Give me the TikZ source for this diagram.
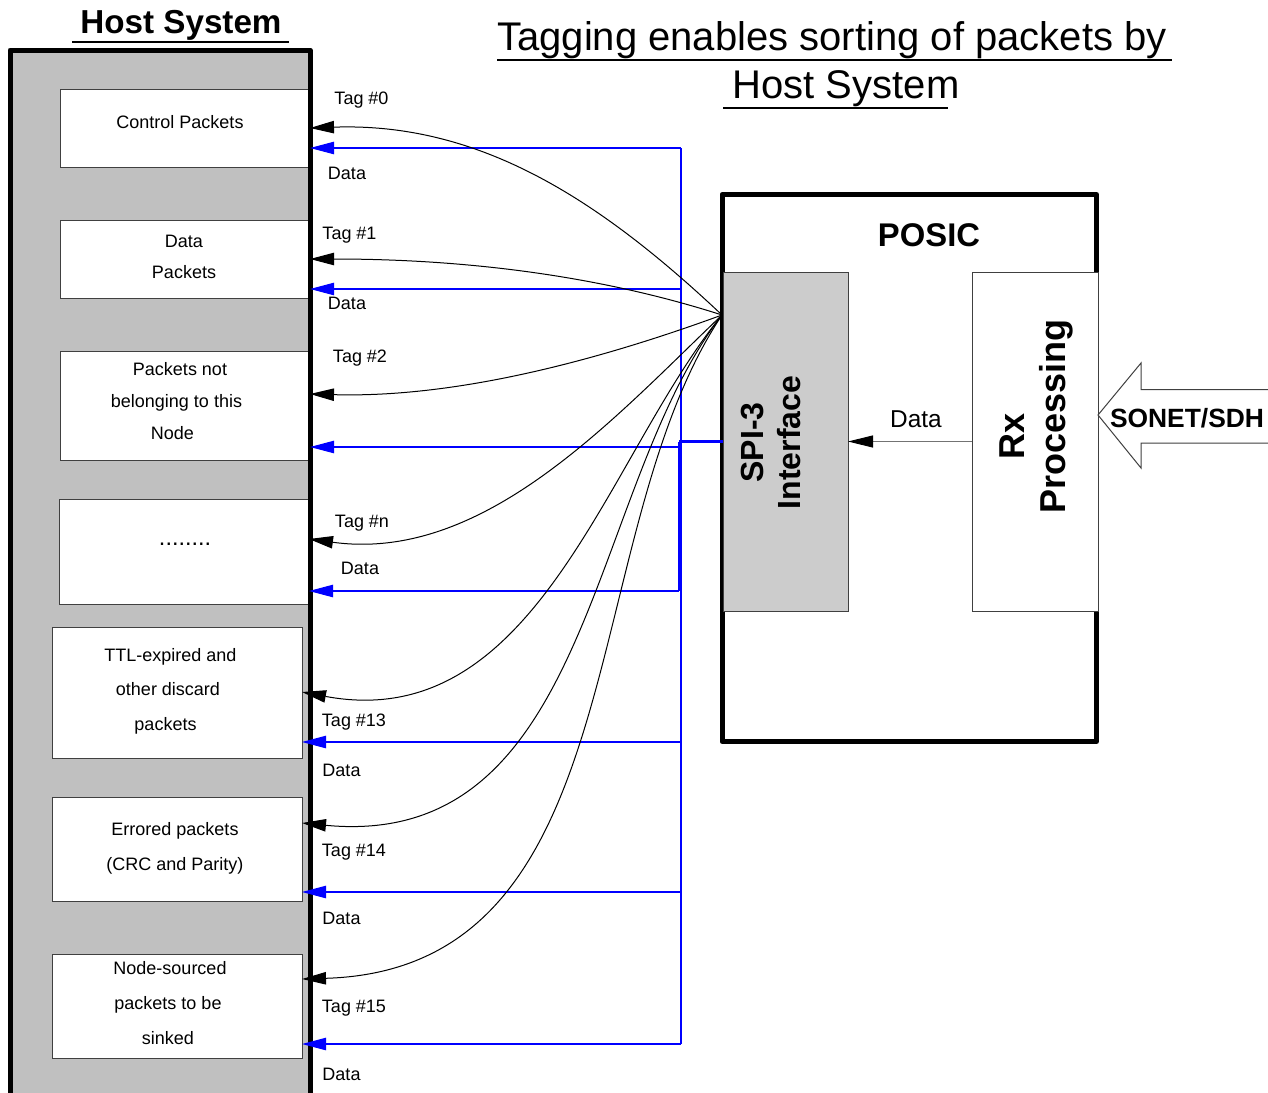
\documentclass[tikz,border=0pt]{standalone}
\usepackage{fontspec}
\setmainfont{Liberation Sans}
\usetikzlibrary{arrows.meta}

\definecolor{hostgray}{RGB}{192,192,192}
\definecolor{spigray}{RGB}{204,204,204}
\definecolor{edgegray}{RGB}{64,64,64}

\begin{document}
\begin{tikzpicture}[x=0.5pt, y=-0.5pt,
  txt/.style={inner sep=0pt, font=\fontsize{9}{16}\selectfont, align=center},
  pkt/.style={draw=edgegray, fill=white, line width=0.5pt, inner sep=0pt, outer sep=0pt, minimum width=125pt},
  tiptri/.style={-{Triangle[length=12pt,width=6.2pt]}},
  tagline/.style={tiptri, draw=black, line width=0.5pt},
  dataline/.style={tiptri, draw=blue, line width=0.55pt},
  bus/.style={draw=blue, line width=0.55pt},
  bigbold/.style={inner sep=0pt, font=\bfseries\fontsize{#1}{#1}\selectfont},
]
\useasboundingbox (0,0) rectangle (1268,1092);

% ---------- host system column ----------
\node[fill=hostgray, inner sep=0pt, outer sep=0pt,
      minimum width=150pt, minimum height=525pt] (host) at (160,575) {};

\node[pkt, minimum height=39pt]   (ctrl)    at (185,128)   {};
\node[pkt, minimum height=39pt]   (datapk)  at (185,259)   {};
\node[pkt, minimum height=54.5pt] (foreign) at (185,405.5) {};
\node[pkt, minimum height=52.5pt] (others)  at (184,551.5) {};
\node[pkt, minimum height=65.5pt] (ttl)     at (177,692.5) {};
\node[pkt, minimum height=52pt]   (errored) at (177,849)   {};
\node[pkt, minimum height=52pt]   (sourced) at (177,1006)  {};

\draw[line width=2.5pt, line join=round]
  (host.south west) -- (host.north west) -- (host.north east) -- (host.south east);

\node[txt] (tctrl) at (180,122) {Control Packets};
\node[txt, font=\fontsize{9}{15.5}\selectfont] (tdata) at (184,257) {Data\\Packets};
\node[txt] (tforeign) at (176.5,401) {\hspace*{3.5pt}Packets not\\belonging to this\\Node\hspace*{4pt}};
\node[txt, anchor=base, font=\fontsize{11.7}{14}\selectfont] (tothers) at (185,545) {........};
\node[txt, font=\fontsize{9}{17.3}\selectfont] (tttl) at (168,691) {\hspace*{2.5pt}TTL-expired and\\other discard\\packets\hspace*{2.5pt}};
\node[txt, font=\fontsize{9}{17.5}\selectfont] (terr) at (175,848) {Errored packets\\(CRC and Parity)};
\node[txt, font=\fontsize{9}{17.3}\selectfont] (tsrc) at (168,1003) {\hspace*{2pt}Node-sourced\\packets to be\\sinked};

\node[bigbold=16.6, anchor=base] (hosttitle) at (181,33) {Host System};
\draw[line width=0.8pt] (72,42) -- (289,42);

% ---------- heading ----------
\node[inner sep=0pt, anchor=base, font=\fontsize{20}{24}\selectfont] (head1) at (832,50) {Tagging enables sorting of packets by};
\node[inner sep=0pt, anchor=base, font=\fontsize{20}{24}\selectfont] (head2) at (846,98) {Host System};
\draw[line width=0.75pt] (497,60) -- (1172,60);
\draw[line width=0.75pt] (723,108) -- (948,108);

% ---------- POSIC device ----------
\node[draw, line width=2.5pt, line join=round, inner sep=0pt, outer sep=0pt,
      minimum width=187.25pt, minimum height=273.5pt] (posic) at (909.25,468) {};
\node[bigbold=16.4, anchor=base] (posictext) at (929,246) {POSIC};

\node[draw=edgegray, fill=spigray, line width=0.5pt, inner sep=0pt, outer sep=0pt,
      minimum width=62.5pt, minimum height=169.5pt] (spi) at (785.5,441.5) {};
\node[draw=edgegray, fill=white, line width=0.5pt, inner sep=0pt, outer sep=0pt,
      minimum width=63pt, minimum height=169.5pt] (rx) at (1035,441.5) {};

\node[rotate=90, align=center, inner sep=0pt,
      font=\bfseries\fontsize{16}{18.5}\selectfont] (spitext) at (771,442.5) {SPI-3\\Interface};
\node[rotate=90, align=center, inner sep=0pt,
      font=\bfseries\fontsize{18}{20.5}\selectfont] (rxtext) at (1036,416.5) {Rx\hspace*{20pt}\\Processing};

\draw[draw=black!55, line width=0.5pt, -{Triangle[length=12.5pt,width=6pt,color=black]}] (rx.west) -- (spi.east);
\node[inner sep=0pt, font=\fontsize{12.2}{14}\selectfont] (rxdata) at (916,419) {Data};

% incoming line arrow
\draw[draw=edgegray, fill=white, line width=0.5pt]
  (1098,415) -- (1141,363) -- (1141,389.5) -- (1272,389.5) -- (1272,443)
  -- (1141,443) -- (1141,468) -- cycle;
\node[bigbold=13.2] (sonet) at (1187,418) {SONET/SDH};

% ---------- data bus (blue) ----------
\coordinate (b0) at (681,148);
\coordinate (b1) at (681,289);
\coordinate (b2) at (681,447);
\coordinate (b4) at (681,742);
\coordinate (b5) at (681,892);
\coordinate (b6) at (681,1044);
\coordinate (j)  at (679,441.5);
\coordinate (b3) at (679,591);

\draw[bus, line width=1.1pt] (spi.west) -- (j);
\draw[bus] (j) -- (b3);
\draw[bus] (b0) -- (b6);

\draw[dataline] (b0) -- (ctrl.east |- b0);
\draw[dataline] (b1) -- (datapk.east |- b1);
\draw[dataline] (b2) -- (foreign.east |- b2);
\draw[dataline] (b3) -- (others.east |- b3);
\draw[dataline] (b4) -- (ttl.east |- b4);
\draw[dataline] (b5) -- (errored.east |- b5);
\draw[dataline] (b6) -- (sourced.east |- b6);

% ---------- tag paths (black) ----------
\coordinate (org) at (722,315);
\coordinate (r2)  at (0,394);
\coordinate (rn)  at (0,539);
\coordinate (r13) at (0,692);
\coordinate (r14) at (0,823);
\coordinate (r15) at (0,979);

\draw[tagline] (org) .. controls (600,200) and (480,122) .. (ctrl.east);
\draw[tagline] (org) .. controls (588,272) and (450,259) .. (datapk.east);
\draw[tagline] (org) .. controls (591,363) and (452,398) .. (foreign.east |- r2);
\draw[tagline] (org) .. controls (613,419) and (484,563) .. (others.east |- rn);
\draw[tagline] (org) .. controls (606,457) and (537,736) .. (ttl.east |- r13);
\draw[tagline] (org) .. controls (587,489) and (593,851) .. (errored.east |- r14);
\draw[tagline] (org) .. controls (574,537) and (637,969) .. (sourced.east |- r15);

% ---------- labels ----------
\node[txt] (lt0)  at (361.5,100) {Tag \#0};
\node[txt] (ld0)  at (347,173)   {Data};
\node[txt] (lt1)  at (349.5,235) {Tag \#1};
\node[txt] (ld1)  at (347,303)   {Data};
\node[txt] (lt2)  at (360,358)   {Tag \#2};
\node[txt] (ltn)  at (362,523)   {Tag \#n};
\node[txt] (ldn)  at (360,568)   {Data};
\node[txt] (lt13) at (354,722)   {Tag \#13};
\node[txt] (ld13) at (341.5,770) {Data};
\node[txt] (lt14) at (354,852)   {Tag \#14};
\node[txt] (ld14) at (341.5,918) {Data};
\node[txt] (lt15) at (354,1008)  {Tag \#15};
\node[txt] (ld15) at (341.5,1074) {Data};
\end{tikzpicture}
\end{document}
